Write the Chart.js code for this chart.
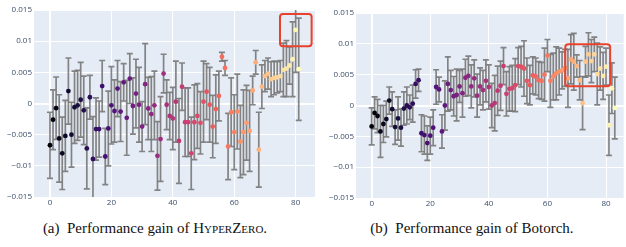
<!DOCTYPE html>
<html><head><meta charset="utf-8">
<script src="https://cdn.jsdelivr.net/npm/chart.js@4.4.1/dist/chart.umd.min.js"></script>
<style>
html,body{margin:0;padding:0;background:#fff;}
body{width:626px;height:247px;position:relative;overflow:hidden;}
canvas{position:absolute;top:0;}
.cap{position:absolute;top:220px;width:300px;text-align:center;font-family:"Liberation Serif","DejaVu Serif",serif;font-size:15px;color:#111;white-space:nowrap;}
.sc{font-variant:small-caps;}
</style></head>
<body>
<canvas id="ca" width="318" height="212" style="left:0"></canvas>
<canvas id="cb" width="308" height="212" style="left:318px"></canvas>
<div class="cap" style="left:5px">(a)&nbsp; Performance gain of <span class="sc">HyperZero</span>.</div>
<div class="cap" style="left:322px">(b)&nbsp; Performance gain of Botorch.</div>
<script>
// ---------- data: (a) HyperZero ----------
const trialsA = [0,1,2,3,4,5,6,7,8,9,10,11,12,13,14,15,16,17,18,19,20,21,22,23,24,25,26,27,28,29,30,31,32,33,34,35,36,37,38,39,40,41,42,43,44,45,46,47,48,49,50,51,52,53,54,55,56,57,58,59,60,61,62,63,64,65,66,67,68,69,70,71,72,73,74,75,76,77,78,79,80,81];
const gainA = [-0.0067,-0.0026,-0.00075,-0.0056,-0.0080,-0.0052,0.0020,-0.0050,-0.0006,-0.0003,
  0.0006,-0.0011,-0.0072,0.0010,-0.0089,-0.0041,-0.0041,0.0028,-0.0085,-0.0040,
  -0.0003,-0.0012,0.0024,-0.0013,0.0034,-0.0023,0.0040,-0.0004,0.0016,-0.0002,
  -0.0037,0.0031,-0.0008,-0.0017,-0.0003,-0.0084,-0.0057,0.0048,-0.0002,-0.0020,
  -0.0024,0.0003,-0.0060,0.0027,-0.0030,-0.0030,-0.0080,-0.0030,-0.0020,-0.0031,
  0.0003,0.0019,-0.0002,-0.0037,-0.0009,0.0012,0.0075,0.0057,-0.0069,-0.0014,
  -0.0046,-0.0013,-0.0061,-0.0046,-0.0031,-0.0044,0.0021,0.0066,-0.0074,0.0027,
  0.0044,0.0048,0.0039,0.0041,0.0042,0.0044,0.0054,0.0056,0.0061,0.0071,
  0.0118,0.0055];
const errA = [0.0053,0.0048,0.0050,0.0070,0.0058,0.0057,0.0053,0.0052,0.0058,0.0056,
  0.0060,0.0055,0.0065,0.0035,0.0068,0.0050,0.0045,0.0041,0.0045,0.0060,
  0.0062,0.0050,0.0045,0.0048,0.0030,0.0060,0.0040,0.0045,0.0055,0.0060,
  0.0040,0.0065,0.0050,0.0060,0.0055,0.0055,0.0068,0.0031,0.0040,0.0038,
  0.0050,0.0065,0.0068,0.0038,0.0055,0.0055,0.0058,0.0060,0.0052,0.0050,
  0.0065,0.0045,0.0060,0.0050,0.0055,0.0040,0.0007,0.0012,0.0053,0.0055,
  0.0060,0.0060,0.0058,0.0068,0.0060,0.0065,0.0023,0.0019,0.0060,0.0035,
  0.0025,0.0025,0.0028,0.0027,0.0025,0.0025,0.0043,0.0045,0.0030,0.0060,
  0.0068,0.0082];
const boxA = [74.9, 85.2, 0.0092, 0.01435]; // x0, x1, y0, y1 in data units

// ---------- data: (b) Botorch ----------
const trialsB = [0,1,2,3,4,5,6,7,8,9,10,11,12,13,14,15,16,17,18,19,20,21,22,23,24,25,26,27,28,29,30,31,32,33,34,35,36,37,38,39,40,41,42,43,44,45,46,47,48,49,50,51,52,53,54,55,56,57,58,59,60,61,62,63,64,65,66,67,68,69,70,71,72,73,74,75,76,77,78,79,80,81,82,83];
const gainB = [-0.0034,-0.0012,-0.0017,-0.0042,-0.0030,-0.0022,0.0008,-0.0006,-0.0035,-0.0021,
  -0.0036,-0.0005,0.0000,-0.0003,0.0003,0.0035,0.0041,-0.0045,-0.0048,-0.0061,
  -0.0049,-0.0036,0.0030,0.0026,-0.0042,0.0000,0.0035,0.0025,0.0015,0.0017,
  0.0031,0.0020,0.0045,0.0048,0.0031,0.0044,0.0016,0.0031,0.0025,0.0040,
  0.0030,0.0000,0.0004,0.0024,0.0032,0.0064,0.0019,0.0027,0.0028,0.0033,
  0.0064,0.0063,0.0060,0.0040,0.0033,0.0049,0.0047,0.0041,0.0040,0.0050,
  0.0081,0.0040,0.0047,0.0052,0.0055,0.0057,0.0061,0.0044,0.0075,0.0071,
  0.0064,0.0041,0.0004,0.0071,0.0083,0.0072,0.0083,0.0051,0.0060,0.0048,
  0.0063,-0.0032,0.0028,-0.0004];
const errB = [0.0030,0.0026,0.0027,0.0042,0.0030,0.0029,0.0022,0.0028,0.0028,0.0035,
  0.0030,0.0027,0.0030,0.0020,0.0030,0.0023,0.0018,0.0030,0.0031,0.0028,
  0.0030,0.0029,0.0028,0.0020,0.0027,0.0040,0.0044,0.0032,0.0032,0.0042,
  0.0026,0.0039,0.0030,0.0032,0.0035,0.0030,0.0035,0.0030,0.0032,0.0034,
  0.0036,0.0036,0.0045,0.0040,0.0040,0.0030,0.0036,0.0036,0.0037,0.0043,
  0.0030,0.0033,0.0045,0.0037,0.0032,0.0030,0.0030,0.0030,0.0030,0.0043,
  0.0026,0.0043,0.0038,0.0043,0.0038,0.0030,0.0030,0.0047,0.0040,0.0046,
  0.0018,0.0032,0.0043,0.0025,0.0035,0.0035,0.0028,0.0050,0.0035,0.0038,
  0.0030,0.0049,0.0041,0.0050];
const boxB = [66.1, 81.4, 0.00313, 0.00995];

// ---------- ticks ----------
const yTickVals = [-0.015,-0.01,-0.005,0,0.005,0.01,0.015];
const yTickLabels = ['\u22120.015','\u22120.01','\u22120.005','0','0.005','0.01','0.015'];
const xTickVals = [0,20,40,60,80];
const xTickLabels = ['0','20','40','60','80'];

// ---------- style helpers ----------
const MAGMA = ['#000004','#180f3d','#440f76','#721f81','#9e2f7f','#cd4071','#f1605d','#fd9668','#feca8d','#fcfdbf'];
function hex(h){return [parseInt(h.slice(1,3),16),parseInt(h.slice(3,5),16),parseInt(h.slice(5,7),16)];}
function magma(t){
  const s = t*(MAGMA.length-1); const k = Math.min(Math.floor(s), MAGMA.length-2); const f = s-k;
  const a = hex(MAGMA[k]), b = hex(MAGMA[k+1]);
  return 'rgb('+a.map((v,j)=>Math.round(v+(b[j]-v)*f)).join(',')+')';
}

const plotBg = {
  id:'plotBg',
  beforeDraw(chart){
    const {ctx, chartArea:a} = chart;
    ctx.save(); ctx.fillStyle='#E5ECF6'; ctx.fillRect(a.left,a.top,a.right-a.left,a.bottom-a.top); ctx.restore();
  }
};
const errorBars = {
  id:'errorBars',
  beforeDatasetsDraw(chart){
    const {ctx, chartArea:a, scales:{x,y}} = chart;
    const ds = chart.data.datasets[0];
    ctx.save();
    ctx.beginPath(); ctx.rect(a.left,a.top,a.right-a.left,a.bottom-a.top); ctx.clip();
    ctx.strokeStyle='rgba(120,120,120,0.9)'; ctx.lineWidth=1.7;
    ds.data.forEach((p,i)=>{
      const e = ds.errors[i];
      const px = x.getPixelForValue(p.x), y0 = y.getPixelForValue(p.y+e), y1 = y.getPixelForValue(p.y-e);
      ctx.beginPath();
      ctx.moveTo(px,y0); ctx.lineTo(px,y1);
      ctx.moveTo(px-3,y0); ctx.lineTo(px+3,y0);
      ctx.moveTo(px-3,y1); ctx.lineTo(px+3,y1);
      ctx.stroke();
    });
    ctx.restore();
  },
  afterDatasetsDraw(chart){
    const box = chart.options.plugins.errorBars.box;
    const {ctx, scales:{x,y}} = chart;
    const l = x.getPixelForValue(box[0]), r = x.getPixelForValue(box[1]);
    const b = y.getPixelForValue(box[2]), t = y.getPixelForValue(box[3]);
    ctx.save(); ctx.strokeStyle='#e8412c'; ctx.lineWidth=2;
    ctx.beginPath(); ctx.roundRect(l,t,r-l,b-t,3); ctx.stroke(); ctx.restore();
  }
};

function makeChart(id, xs, ys, es, box, xmin, xmax, axisW, axisH, pad){
  const n = xs.length;
  const cols = xs.map((v,i)=>magma(i/(n-1)));
  const font = {family:'"Open Sans", sans-serif', size:8};
  return new Chart(document.getElementById(id), {
    type:'scatter',
    data:{datasets:[{data:xs.map((x,i)=>({x:x,y:ys[i]})), errors:es,
      pointRadius:2.4, pointHoverRadius:2.4, pointBorderWidth:0, pointBackgroundColor:cols, showLine:false}]},
    options:{
      responsive:false, animation:false, devicePixelRatio:1,
      layout:{padding:pad},
      plugins:{legend:{display:false}, tooltip:{enabled:false}, errorBars:{box:box}},
      scales:{
        x:{type:'linear', min:xmin, max:xmax,
          afterBuildTicks:s=>{s.ticks = xTickVals.map(v=>({value:v}));},
          afterFit:s=>{s.height = axisH;},
          ticks:{font:font, color:'#3d4f6b', padding:1, maxRotation:0,
            callback:(v)=>xTickLabels[xTickVals.indexOf(v)]},
          grid:{color:'#ffffff', lineWidth:c=>(c.tick && c.tick.value===0)?2:1, drawTicks:false},
          border:{display:false}},
        y:{type:'linear', min:-0.015, max:0.015,
          afterBuildTicks:s=>{s.ticks = yTickVals.map(v=>({value:v}));},
          afterFit:s=>{s.width = axisW;},
          ticks:{font:font, color:'#3d4f6b', padding:2,
            callback:(v)=>{let k=yTickVals.findIndex(t=>Math.abs(t-v)<1e-9); return yTickLabels[k];}},
          grid:{color:'#ffffff', lineWidth:c=>(c.tick && Math.abs(c.tick.value)<1e-9)?2:1, drawTicks:false},
          border:{display:false}}
      }
    },
    plugins:[plotBg, errorBars]
  });
}

makeChart('ca', trialsA, gainA, errA, boxA, -5.2, 86.3, 34, 15, {top:10, right:3, left:0, bottom:0});
makeChart('cb', trialsB, gainB, errB, boxB, -5.35, 86.0, 38, 14, {top:13, right:2, left:0, bottom:0});
</script>
</body></html>
